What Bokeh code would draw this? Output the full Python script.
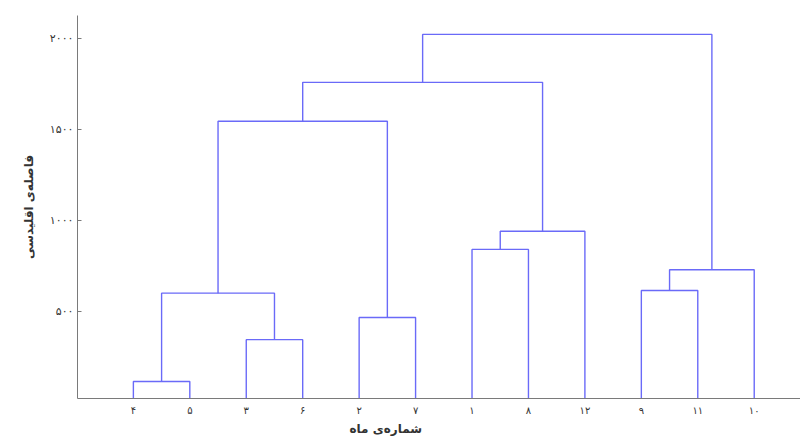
from bokeh.plotting import figure
from bokeh.models import FixedTicker, Range1d, Title
from bokeh.embed import file_html
from bokeh.resources import INLINE

# leaves in dendrogram order (month numbers, Persian digits)
leaf_labels = ["۴", "۵", "۳", "۶", "۲", "۷", "۱", "۸", "۱۲", "۹", "۱۱", "۱۰"]
# merges: (left cluster id, right cluster id, height); new cluster ids start at 12
merge_left = [0, 2, 12, 4, 14, 6, 17, 16, 9, 20, 19]
merge_right = [1, 3, 13, 5, 15, 7, 8, 18, 10, 11, 21]
merge_height = [113, 343, 599, 465, 1546, 840, 940, 1760, 614, 728, 2024]
y_ticks = [500, 1000, 1500, 2000]
y_tick_labels = ["۵۰۰", "۱۰۰۰", "۱۵۰۰", "۲۰۰۰"]
x_title = "شماره‌ی ماه"
y_title = "فاصله‌ی اقلیدسی"

FONT = "DejaVu Sans"
LINE = "#6a6af8"
AXIS = "#7a7a7a"
TEXT = "#333333"

# cluster positions
pos_x = {i: float(i) for i in range(len(leaf_labels))}
pos_h = {i: 0.0 for i in range(len(leaf_labels))}
xs, ys = [], []
for k, (a, b, h) in enumerate(zip(merge_left, merge_right, merge_height)):
    cid = len(leaf_labels) + k
    xs.append([pos_x[a], pos_x[a], pos_x[b], pos_x[b]])
    ys.append([pos_h[a], h, h, pos_h[b]])
    pos_x[cid] = (pos_x[a] + pos_x[b]) / 2
    pos_h[cid] = h

p = figure(width=800, height=441, output_backend="svg", toolbar_location=None,
           x_range=Range1d(-0.99, 11.82), y_range=Range1d(19, 2128),
           min_border_left=77, min_border_right=0, min_border_top=15, min_border_bottom=43)
p.outline_line_color = None
p.xgrid.visible = False
p.ygrid.visible = False
p.background_fill_color = "white"
p.border_fill_color = "white"

p.multi_line(xs, ys, line_color=LINE, line_width=1.4)

# x axis
p.xaxis.ticker = FixedTicker(ticks=list(range(len(leaf_labels))))
p.xaxis.major_label_overrides = {i: l for i, l in enumerate(leaf_labels)}
p.xaxis.major_tick_in = 0
p.xaxis.major_tick_out = 0
p.xaxis.minor_tick_line_color = None
p.xaxis.axis_line_color = AXIS
p.xaxis.major_label_standoff = 6
p.xaxis.major_label_text_font = FONT
p.xaxis.major_label_text_font_size = "10px"
p.xaxis.major_label_text_color = TEXT

# y axis
p.yaxis.ticker = FixedTicker(ticks=y_ticks)
p.yaxis.major_label_overrides = {t: l for t, l in zip(y_ticks, y_tick_labels)}
p.yaxis.major_tick_in = 4
p.yaxis.major_tick_out = 0
p.yaxis.major_tick_line_color = AXIS
p.yaxis.minor_tick_line_color = None
p.yaxis.axis_line_color = AXIS
p.yaxis.major_label_standoff = 4
p.yaxis.major_label_text_font = FONT
p.yaxis.major_label_text_font_size = "11px"
p.yaxis.major_label_text_color = TEXT
p.yaxis.axis_label = y_title
p.yaxis.axis_label_standoff = 11
p.yaxis.axis_label_text_font = FONT
p.yaxis.axis_label_text_font_size = "12px"
p.yaxis.axis_label_text_font_style = "bold"
p.yaxis.axis_label_text_color = TEXT

# x title, shifted left of the frame centre as in the reference
p.add_layout(Title(text=x_title, align="left", offset=272, standoff=3,
                   text_font=FONT, text_font_size="12px", text_font_style="bold",
                   text_color=TEXT), "below")

open("out.html", "w").write(file_html(p, INLINE))
